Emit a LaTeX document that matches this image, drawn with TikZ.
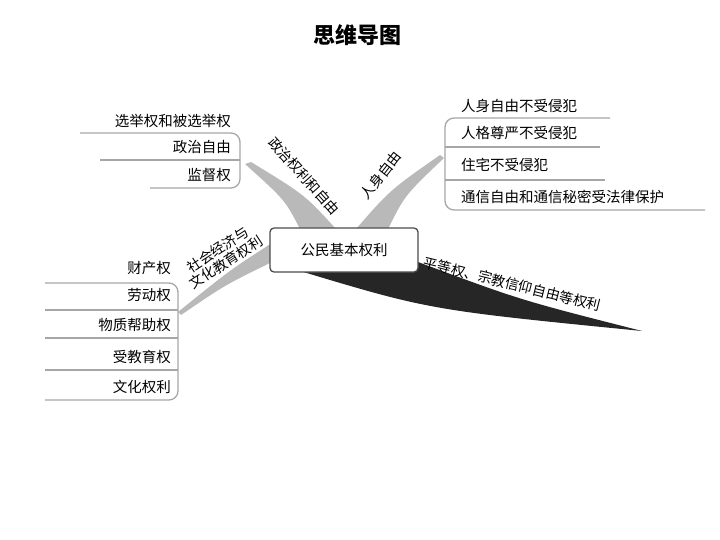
\documentclass[tikz,border=0pt]{standalone}
\usepackage{fontspec}
\setmainfont{Noto Sans CJK SC}
\usepackage{tikz}
\begin{document}
\begin{tikzpicture}[x=1pt,y=-1pt,
    item/.style={font=\fontsize{14.5}{14.5}\selectfont, inner sep=1pt},
    bracket/.style={draw=gray!70, line width=1.3pt, rounded corners=9pt},
    branchlabel/.style={font=\fontsize{14}{15}\selectfont, align=center, inner sep=0pt}]
    \useasboundingbox (0,0) rectangle (720,540);
    \node[font=\fontsize{22}{22}\selectfont\bfseries] (title) at (357,35) {思维导图};
    % wedges
    \fill[gray!55] (300,229) .. controls (285,200) .. (245,164) -- (251,162) .. controls (305,195) .. (336,229) -- cycle;
    \fill[gray!55] (356,229) .. controls (390,190) .. (440,155) -- (444,158) .. controls (405,195) .. (388,229) -- cycle;
    \fill[gray!55] (272,243) .. controls (230,270) .. (178,312) -- (181,315) .. controls (225,285) .. (272,262) -- cycle;
    \fill[black!85] (300,271) .. controls (430,310) .. (642,331) .. controls (520,300) .. (418,262) -- cycle;
    % center
    \node[draw=black!70, line width=1.3pt, rounded corners=4pt, fill=white, minimum width=148pt, minimum height=44pt,
      font=\fontsize{14.5}{14.5}\selectfont] (root) at (344,250) {公民基本权利};
    % political
    \draw[bracket] (80,133) -- (240,133) -- (240,188) -- (150,188);
    \draw[draw=gray!70, line width=1.3pt] (100,160) -- (240,160);
    \node[item, anchor=east] (elect) at (232,121) {选举权和被选举权};
    \node[item, anchor=east] (polfree) at (232,147) {政治自由};
    \node[item, anchor=east] (superv) at (232,175) {监督权};
    \node[branchlabel, rotate=-48] (pol) at (304,176) {政治权利和自由};
    % personal
    \draw[bracket] (610,118) -- (445,118) -- (445,210) -- (705,210);
    \draw[draw=gray!70, line width=1.3pt] (445,147) -- (600,147);
    \draw[draw=gray!70, line width=1.3pt] (445,180) -- (605,180);
    \node[item, anchor=west] (body) at (460,106) {人身自由不受侵犯};
    \node[item, anchor=west] (dignity) at (460,133) {人格尊严不受侵犯};
    \node[item, anchor=west] (home) at (460,165) {住宅不受侵犯};
    \node[item, anchor=west] (mail) at (460,197) {通信自由和通信秘密受法律保护};
    \node[branchlabel, rotate=52] (pers) at (381,175) {人身自由};
    % social
    \draw[bracket] (45,283) -- (178,283) -- (178,400) -- (45,400);
    \foreach \y in {310,338,370}
      \draw[draw=gray!70, line width=1.3pt] (45,\y) -- (178,\y);
    \node[item, anchor=east] (prop) at (172,268) {财产权};
    \node[item, anchor=east] (labor) at (172,295) {劳动权};
    \node[item, anchor=east] (aid) at (172,325) {物质帮助权};
    \node[item, anchor=east] (edu) at (172,357) {受教育权};
    \node[item, anchor=east] (cult) at (172,387) {文化权利};
    \node[branchlabel, rotate=33] (soc) at (222,256) {社会经济与\\文化教育权利};
    % equality
    \node[branchlabel, rotate=-14, anchor=west] (equal) at (424,262) {平等权、宗教信仰自由等权利};
\end{tikzpicture}
\end{document}
